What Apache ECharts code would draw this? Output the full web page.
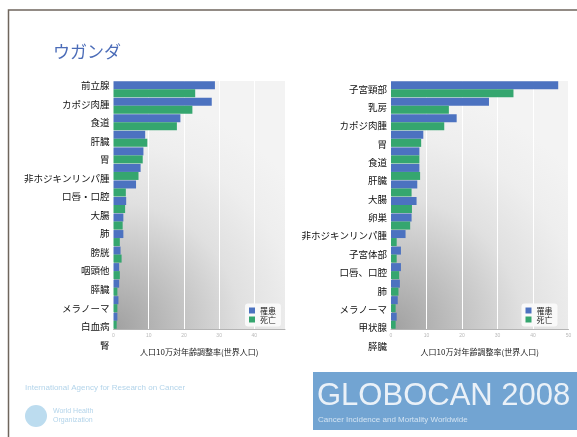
<!DOCTYPE html>
<html>
<head>
<meta charset="utf-8">
<script src="https://cdn.jsdelivr.net/npm/echarts@6/dist/echarts.min.js"></script>
<style>
  html, body { margin: 0; padding: 0; background: #fff; }
  #main { width: 577px; height: 437px; }
</style>
</head>
<body>
<div id="main"></div>
<script>
// 男性 (左)
const maleCats = ['前立腺', 'カポジ肉腫', '食道', '肝臓', '胃', '非ホジキンリンパ腫', '口唇・口腔', '大腸', '肺', '膀胱', '咽頭他', '膵臓', 'メラノーマ', '白血病', '腎']
const maleIncidence = [28.8, 27.9, 19.0, 9.0, 8.5, 7.7, 6.4, 3.6, 2.8, 2.8, 2.0, 1.6, 1.6, 1.4, 1.1]
const maleMortality = [23.2, 22.4, 18.0, 9.6, 8.3, 7.1, 3.5, 3.3, 2.6, 1.8, 2.3, 1.8, 1.1, 1.1, 0.9]

// 女性 (右)
const femaleCats = ['子宮頸部', '乳房', 'カポジ肉腫', '胃', '食道', '肝臓', '大腸', '卵巣', '非ホジキンリンパ腫', '子宮体部', '口唇、口腔', '肺', 'メラノーマ', '甲状腺', '膵臓']
const femaleIncidence = [47.1, 27.6, 18.5, 9.1, 8.0, 8.0, 7.4, 7.2, 5.8, 4.1, 2.8, 2.8, 2.5, 1.9, 1.6]
const femaleMortality = [34.5, 16.3, 15.0, 8.5, 8.0, 8.2, 5.8, 5.9, 5.4, 1.6, 1.6, 2.3, 2.1, 1.3, 1.3]

const seriesNames = ['罹患', '死亡']
const axisTitle = '人口10万対年齢調整率(世界人口)'
const leftMax = 48.7
const rightMax = 50
const tickStep = 10

const BLUE = '#4c72c0'
const GREEN = '#35a66f'
const JP = '"Noto Sans CJK JP", sans-serif'

const plotBg = new echarts.graphic.RadialGradient(0, 1, 1.35, [
  { offset: 0, color: '#a0a0a0' },
  { offset: 0.25, color: '#bdbdbd' },
  { offset: 0.55, color: '#e0e0e0' },
  { offset: 0.8, color: '#eeeeee' },
  { offset: 1, color: '#f3f3f3' }
])

const valueAxis = (gridIndex, max) => ({
  type: 'value',
  gridIndex,
  min: 0,
  max,
  interval: tickStep,
  name: axisTitle,
  nameLocation: 'middle',
  nameGap: 19,
  nameTextStyle: { fontFamily: JP, fontSize: 8, color: '#222' },
  axisLine: { show: true, lineStyle: { color: '#b4b4b4' } },
  axisTick: { show: false },
  axisLabel: {
    fontSize: 5,
    color: '#b8b8b8',
    margin: 4,
    formatter: v => (v % tickStep === 0 ? String(v) : '')
  },
  splitLine: { show: true, lineStyle: { color: '#ffffff', width: 1 } }
})

const labelAxis = (gridIndex, cats) => ({
  type: 'category',
  gridIndex,
  inverse: true,
  data: cats,
  axisLine: { show: false },
  axisTick: { show: false },
  axisLabel: { fontFamily: JP, fontSize: 9.5, color: '#111', margin: 4 }
})

const barAxis = (gridIndex, cats) => ({
  type: 'category',
  gridIndex,
  inverse: true,
  data: cats,
  axisLine: { show: false },
  axisTick: { show: false },
  axisLabel: { show: false }
})

const barSeries = (name, data, idx, color) => ({
  name,
  type: 'bar',
  xAxisIndex: idx,
  yAxisIndex: idx,
  data,
  barWidth: 8,
  barGap: '0%',
  itemStyle: { color }
})

const legendAt = (left) => ({
  data: seriesNames,
  orient: 'vertical',
  left,
  top: 303.5,
  itemWidth: 6,
  itemHeight: 6,
  itemGap: 1,
  icon: 'rect',
  padding: [3, 5, 3, 4],
  backgroundColor: '#f9f9f9',
  borderRadius: 3,
  textStyle: { fontFamily: JP, fontSize: 8, color: '#222' }
})

const option = {
  animation: false,
  backgroundColor: '#ffffff',
  grid: [
    { left: 113.5, top: 81, width: 171.5, height: 248, show: true, borderWidth: 0, backgroundColor: plotBg },
    { left: 113.5, top: 76.4, width: 171.5, height: 277.8 },
    { left: 391, top: 81, width: 177.5, height: 248, show: true, borderWidth: 0, backgroundColor: plotBg },
    { left: 391, top: 79.8, width: 177.5, height: 275.4 }
  ],
  xAxis: [
    valueAxis(0, leftMax),
    { type: 'value', gridIndex: 1, show: false },
    valueAxis(2, rightMax),
    { type: 'value', gridIndex: 3, show: false }
  ],
  yAxis: [
    barAxis(0, maleCats),
    labelAxis(1, maleCats),
    barAxis(2, femaleCats),
    labelAxis(3, femaleCats)
  ],
  legend: [legendAt(245), legendAt(521.5)],
  series: [
    barSeries(seriesNames[0], maleIncidence, 0, BLUE),
    barSeries(seriesNames[1], maleMortality, 0, GREEN),
    barSeries(seriesNames[0], femaleIncidence, 2, BLUE),
    barSeries(seriesNames[1], femaleMortality, 2, GREEN)
  ],
  graphic: [
    // スライド枠
    { type: 'polyline', shape: { points: [[577, 10], [8.5, 10], [8.5, 437]] }, style: { stroke: '#6f665d', lineWidth: 1.5, fill: null } },
    { type: 'text', left: 53, top: 43, style: { text: 'ウガンダ', font: '17px ' + JP, fill: '#4b6cb8' } },
    // IARC / WHO ロゴ
    { type: 'text', left: 25, top: 384, style: { text: 'International Agency for Research on Cancer', font: '8px "Liberation Sans"', fill: '#b3d4ea' } },
    { type: 'circle', shape: { cx: 36, cy: 416, r: 11 }, style: { fill: '#bcdcef' } },
    { type: 'text', left: 53, top: 408, style: { text: 'World Health', font: '7px "Liberation Sans"', fill: '#b3d4ea' } },
    { type: 'text', left: 53, top: 417, style: { text: 'Organization', font: '7px "Liberation Sans"', fill: '#b3d4ea' } },
    // GLOBOCAN
    { type: 'rect', shape: { x: 313, y: 372, width: 264, height: 58 }, style: { fill: '#72a4d2' } },
    { type: 'text', left: 317, top: 381, style: { text: 'GLOBOCAN 2008', font: '31px "Liberation Sans"', fill: '#eaf1f8' } },
    { type: 'text', left: 318, top: 416, style: { text: 'Cancer Incidence and Mortality Worldwide', font: '8px "Liberation Sans"', fill: '#d2e3f2' } }
  ]
}

const chart = echarts.init(document.getElementById('main'), null, { renderer: 'canvas' })
chart.setOption(option)
</script>
</body>
</html>
